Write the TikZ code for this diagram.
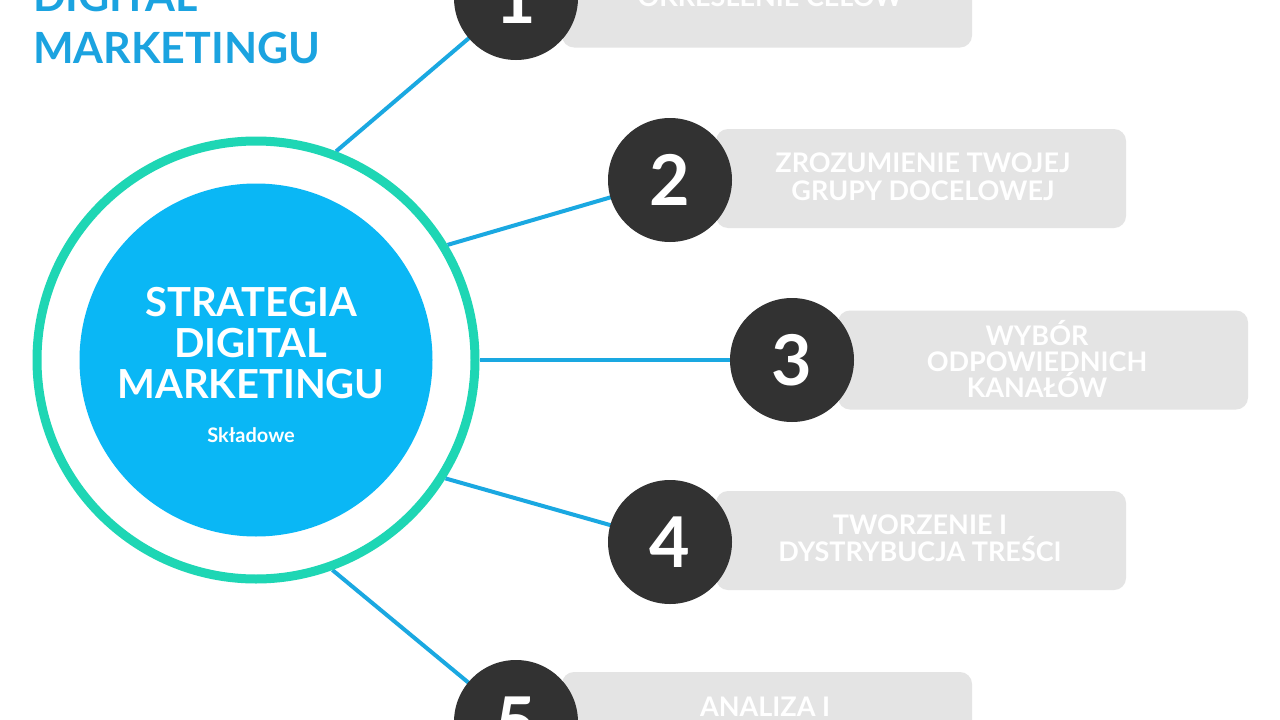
\documentclass[tikz,border=0pt]{standalone}
\usepackage{fontspec}
\setmainfont{Lato}
\usetikzlibrary{backgrounds}
\definecolor{coreblue}{RGB}{10,183,245}
\definecolor{ringteal}{RGB}{30,214,180}
\definecolor{linkblue}{RGB}{26,168,225}
\definecolor{titleblue}{RGB}{27,163,224}
\definecolor{darkdisc}{RGB}{50,50,50}
\definecolor{boxgray}{RGB}{228,228,228}
\tikzset{
  ringnode/.style={circle, draw=ringteal, line width=9pt, minimum size=438pt, inner sep=0pt},
  corenode/.style={circle, fill=coreblue, minimum size=353pt, inner sep=0pt},
  coreline/.style={anchor=base, text=white, font=\fontsize{40}{40}\selectfont\bfseries, inner sep=0pt},
  subline/.style={anchor=base, text=white, font=\fontsize{20}{20}\selectfont\bfseries, inner sep=0pt},
  titleline/.style={anchor=base west, text=titleblue, font=\fontsize{43}{43}\selectfont\bfseries, inner sep=0pt},
  numdisc/.style={circle, fill=darkdisc, minimum size=124pt, inner sep=0pt, text=white, font=\fontsize{70}{70}\selectfont\bfseries},
  stepbox/.style={rectangle, fill=boxgray, rounded corners=12pt, minimum width=410pt, minimum height=99pt, inner sep=0pt},
  boxline/.style={anchor=base, text=white, font=\fontsize{27}{27}\selectfont\bfseries, inner sep=0pt},
  link/.style={draw=linkblue, line width=4pt}
}
\begin{document}
\begin{tikzpicture}[x=1pt,y=-1pt]
\useasboundingbox (0,0) rectangle (1280,720);
\begin{scope}[on background layer]
\fill[white] (0,0) rectangle (1280,720);
\end{scope}
% title
\node[titleline] (ta) at (33,12) {DIGITAL};
\node[titleline] (tb) at (33,63) {MARKETINGU};
% central circles
\node[ringnode] (ring) at (256,360) {};
\node[corenode] (core) at (256,360) {};
\node[coreline] (c1) at (251,316) {STRATEGIA};
\node[coreline] (c2) at (251,357) {DIGITAL};
\node[coreline] (c3) at (251,398) {MARKETINGU};
\node[subline] (c4) at (251,442) {Składowe};
% boxes
\node[stepbox] (b1) at (767,-2) {};
\node[stepbox] (b2) at (921,178.5) {};
\node[stepbox] (b3) at (1043,360) {};
\node[stepbox] (b4) at (921,540.5) {};
\node[stepbox] (b5) at (767,721.5) {};
% discs
\node[numdisc] (n1) at (516,-2) {1};
\node[numdisc] (n2) at (670,180) {2};
\node[numdisc] (n3) at (792,360) {3};
\node[numdisc] (n4) at (670,542) {4};
\node[numdisc] (n5) at (516,722) {5};
% connectors
\begin{scope}[on background layer]
\draw[link] (ring.69) -- (n1.center);
\draw[link] (ring.31) -- (n2.center);
\draw[link] (ring.0) -- (n3.center);
\draw[link] (ring.-32) -- (n4.center);
\draw[link] (ring.-70) -- (n5.center);
\end{scope}
% box texts
\node[boxline] (t1a) at (770,6) {OKREŚLENIE CELÓW};
\node[boxline] (t2a) at (923,172) {ZROZUMIENIE TWOJEJ};
\node[boxline] (t2b) at (923,200) {GRUPY DOCELOWEJ};
\node[boxline] (t3a) at (1037,345) {WYBÓR};
\node[boxline] (t3b) at (1037,371) {ODPOWIEDNICH};
\node[boxline] (t3c) at (1037,397) {KANAŁÓW};
\node[boxline] (t4a) at (920,534) {TWORZENIE I};
\node[boxline] (t4b) at (920,561) {DYSTRYBUCJA TREŚCI};
\node[boxline] (t5a) at (765,716) {ANALIZA I};
\end{tikzpicture}
\end{document}
